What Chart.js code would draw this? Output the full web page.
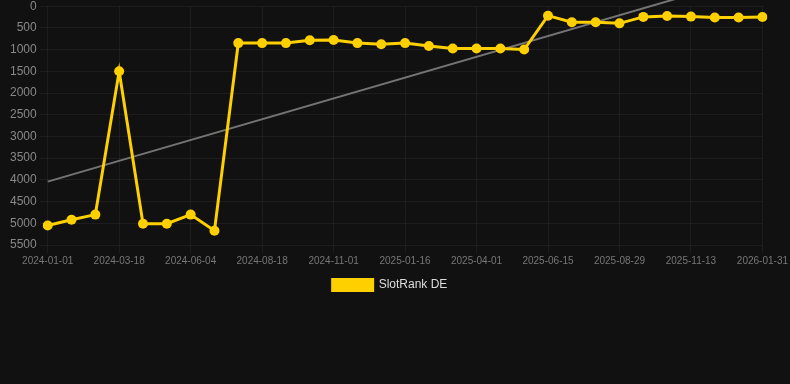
<!DOCTYPE html>
<html>
<head>
<meta charset="utf-8">
<script src="https://cdn.jsdelivr.net/npm/chart.js@4/dist/chart.umd.min.js"></script>
<style>
  html, body { margin: 0; padding: 0; background: #111111; overflow: hidden; }
  #wrap { width: 790px; height: 305px; position: relative; top: -4px; }
</style>
</head>
<body>
<div id="wrap"><canvas id="grafico"></canvas></div>
<script>
// fechas de cada registro
const fechas = [
  '2024-01-01', '2024-01-26', '2024-02-21', '2024-03-18', '2024-04-13', '2024-05-09',
  '2024-06-04', '2024-06-29', '2024-07-24', '2024-08-18', '2024-09-12', '2024-10-07',
  '2024-11-01', '2024-11-26', '2024-12-22', '2025-01-16', '2025-02-09', '2025-03-07',
  '2025-04-01', '2025-04-26', '2025-05-21', '2025-06-15', '2025-07-10', '2025-08-04',
  '2025-08-29', '2025-09-23', '2025-10-19', '2025-11-13', '2025-12-09', '2026-01-05',
  '2026-01-31'
];

// posicion en el ranking
const rankingDE = [
  5050, 4920, 4800, 1500, 5010, 5010, 4800, 5170, 850, 850, 850, 785, 780,
  850, 878, 850, 918, 975, 975, 975, 998, 218, 370, 370, 395, 246, 225,
  240, 262, 262, 248
];

// linea de tendencia (solo extremos)
const tendencia = [4040].concat(new Array(29).fill(null), [-750]);

const ticksY = { min: 0, max: 5500, paso: 500 };

const grafico = new Chart(document.getElementById('grafico'), {
  type: 'line',
  data: {
    labels: fechas,
    datasets: [
      {
        label: 'SlotRank DE',
        data: rankingDE,
        borderColor: '#ffd000',
        backgroundColor: '#ffd000',
        borderWidth: 3,
        pointRadius: 5,
        pointBorderWidth: 0,
        pointBackgroundColor: '#ffd000',
        tension: 0
      },
      {
        label: 'Tendencia',
        data: tendencia,
        borderColor: 'rgba(128,128,128,0.9)',
        borderWidth: 2,
        pointRadius: 0,
        spanGaps: true,
        clip: false,
        tension: 0
      }
    ]
  },
  options: {
    responsive: true,
    maintainAspectRatio: false,
    animation: false,
    layout: { padding: { left: 7, right: 17 } },
    scales: {
      x: {
        grid: { color: 'rgba(255,255,255,0.05)' },
        border: { display: false },
        ticks: {
          color: '#777',
          padding: 2,
          font: { family: 'Liberation Sans, Arial', size: 10 },
          maxRotation: 0,
          autoSkip: false,
          callback: function (val, i) {
            return i % 3 === 0 ? fechas[i] : null;
          }
        }
      },
      y: {
        reverse: true,
        min: ticksY.min,
        max: ticksY.max,
        grid: { color: 'rgba(255,255,255,0.05)' },
        border: { display: false },
        ticks: {
          stepSize: ticksY.paso,
          color: '#888',
          font: { family: 'Liberation Sans, Arial', size: 12 },
          callback: v => String(v)
        }
      }
    },
    plugins: {
      legend: {
        position: 'bottom',
        labels: {
          color: '#ddd',
          font: { family: 'Liberation Sans, Arial', size: 12 },
          boxWidth: 40,
          boxHeight: 11,
          filter: item => item.text === 'SlotRank DE'
        }
      },
      tooltip: { enabled: false }
    }
  }
});
</script>
</body>
</html>
